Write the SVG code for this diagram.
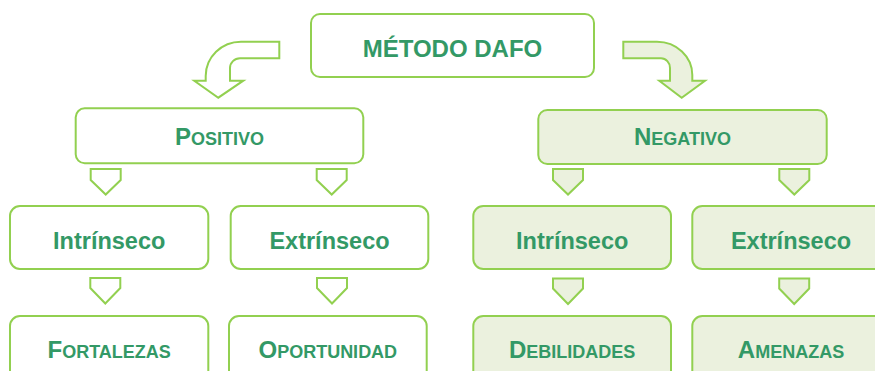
<svg xmlns="http://www.w3.org/2000/svg" width="875" height="371" viewBox="0 0 875 371">
<style>
  .box { stroke: #92D050; stroke-width: 2; }
  .pos { fill: #FFFFFF; }
  .neg { fill: #EBF1DE; }
  .arr { stroke: #92D050; stroke-width: 2; stroke-linejoin: miter; }
  text { font-family: "Liberation Sans", Arial, sans-serif; font-weight: bold; fill: #339966; text-anchor: middle; }
  .big { font-size: 24px; }
  .sc { font-size: 18px; }
</style>
<rect width="875" height="371" fill="#FFFFFF"/>

<g id="connectors">
  <path class="arr pos" d="M279.3,41.7 H241 A35.3,34.3 0 0 0 205.7,76 V80.7 H194.3 L218.3,97.7 L243.3,80.7 H230 V68 A10,9.7 0 0 1 240,58.3 H279.3 Z"/>
  <path class="arr neg" d="M623.3,41.7 H657 A35.3,33.3 0 0 1 692.3,75 V80.7 H705 L681.7,97.7 L659.3,80.7 H670 V68 A9,9.7 0 0 0 661,58.3 H623.3 Z"/>
  <path class="arr pos" d="M90.7,169 H120.7 V180 L105.7,194.5 L90.7,180 Z"/>
  <path class="arr pos" d="M316.7,169 H346.7 V180 L331.7,194.5 L316.7,180 Z"/>
  <path class="arr neg" d="M553,169 H583 V180 L568,194.5 L553,180 Z"/>
  <path class="arr neg" d="M779.3,169 H809.3 V180 L794.3,194.5 L779.3,180 Z"/>
  <path class="arr pos" d="M90.3,278 H120.3 V288 L105.3,303.5 L90.3,288 Z"/>
  <path class="arr pos" d="M317,278 H347 V288 L332,303.5 L317,288 Z"/>
  <path class="arr neg" d="M553,278.5 H583 V288.5 L568,304 L553,288.5 Z"/>
  <path class="arr neg" d="M779.2,278.5 H809.2 V288.5 L794.2,304 L779.2,288.5 Z"/>
</g>

<g id="metodo-dafo">
  <rect class="box pos" x="311" y="14" width="283" height="63" rx="9"/>
  <text class="big" x="452.5" y="57">MÉTODO DAFO</text>
</g>

<g id="positivo">
  <rect class="box pos" x="75.7" y="108.3" width="287.6" height="55" rx="9"/>
  <text x="219.5" y="145"><tspan class="big">P</tspan><tspan class="sc">OSITIVO</tspan></text>
</g>

<g id="negativo">
  <rect class="box neg" x="538.3" y="110" width="288.4" height="54" rx="9"/>
  <text x="682.5" y="145"><tspan class="big">N</tspan><tspan class="sc">EGATIVO</tspan></text>
</g>

<g id="pos-intrinseco">
  <rect class="box pos" x="10" y="206" width="198.3" height="63" rx="10"/>
  <text class="big" x="109.2" y="249.3" style="font-size:23.5px">Intrínseco</text>
</g>

<g id="pos-extrinseco">
  <rect class="box pos" x="230.7" y="206" width="197.6" height="63" rx="10"/>
  <text class="big" x="329.5" y="249.3" style="font-size:23.5px">Extrínseco</text>
</g>

<g id="neg-intrinseco">
  <rect class="box neg" x="473.3" y="206" width="197.7" height="63" rx="10"/>
  <text class="big" x="572.2" y="249.3" style="font-size:23.5px">Intrínseco</text>
</g>

<g id="neg-extrinseco">
  <rect class="box neg" x="692.3" y="206" width="197.7" height="63" rx="10"/>
  <text class="big" x="791" y="249.3" style="font-size:23.5px">Extrínseco</text>
</g>

<g id="fortalezas">
  <rect class="box pos" x="10" y="316" width="198.3" height="80" rx="10"/>
  <text x="109.2" y="358.3"><tspan class="big">F</tspan><tspan class="sc">ORTALEZAS</tspan></text>
</g>

<g id="oportunidad">
  <rect class="box pos" x="229" y="316" width="197.7" height="80" rx="10"/>
  <text x="327.8" y="358.3"><tspan class="big">O</tspan><tspan class="sc">PORTUNIDAD</tspan></text>
</g>

<g id="debilidades">
  <rect class="box neg" x="473.3" y="316" width="197.7" height="80" rx="10"/>
  <text x="572.2" y="358.3"><tspan class="big">D</tspan><tspan class="sc">EBILIDADES</tspan></text>
</g>

<g id="amenazas">
  <rect class="box neg" x="692.3" y="316" width="197.7" height="80" rx="10"/>
  <text x="791" y="358.3"><tspan class="big">A</tspan><tspan class="sc">MENAZAS</tspan></text>
</g>
</svg>
